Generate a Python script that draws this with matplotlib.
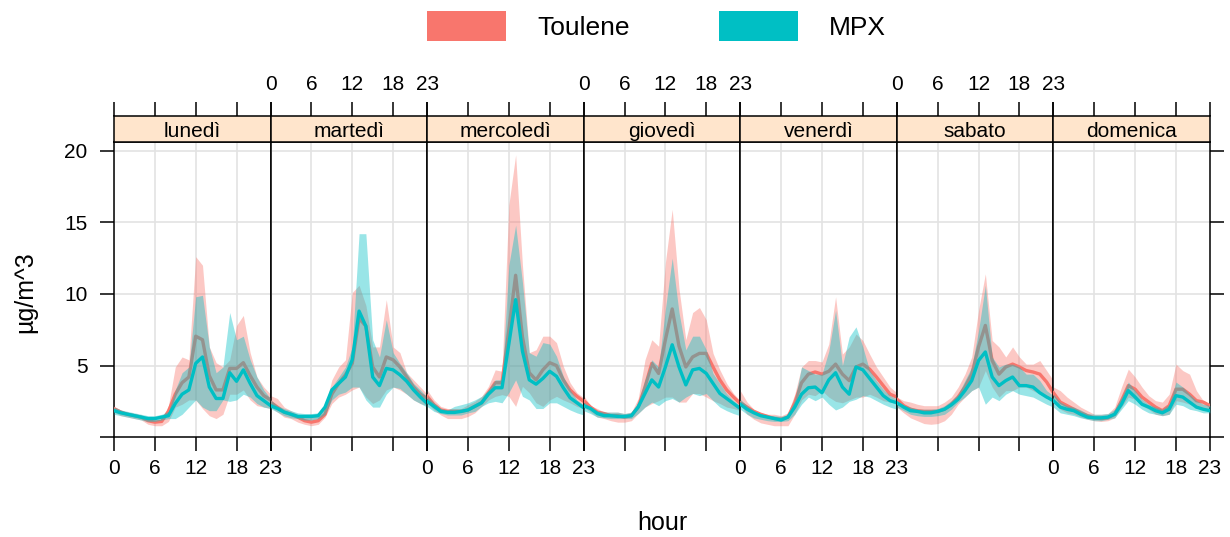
import numpy as np
import matplotlib
matplotlib.use("Agg")
import matplotlib.pyplot as plt
from matplotlib.patches import Rectangle

plt.rcParams['font.family'] = ['Liberation Sans', 'DejaVu Sans']

days = ["lunedì", "martedì", "mercoledì", "giovedì", "venerdì", "sabato", "domenica"]
hours = list(range(24))
hour_ticks = [0, 6, 12, 18, 23]
y_ticks = [0, 5, 10, 15, 20]
y_ticklabels = ["", "5", "10", "15", "20"]
series = ["Toulene", "MPX"]
colors = ["#F8766D", "#00BFC4"]

tol_mean = [
    [2.0, 1.75, 1.6, 1.5, 1.4, 1.15, 1.05, 1.1, 1.8, 3.0, 3.8, 4.2, 7.05, 6.8, 4.3, 3.3, 3.3, 4.8, 4.8, 5.2, 4.3, 3.5, 2.9, 2.6],
    [2.45, 2.1, 1.75, 1.6, 1.4, 1.15, 1.05, 1.15, 1.6, 3.0, 3.75, 4.35, 5.15, 8.3, 7.75, 4.9, 4.2, 5.6, 5.4, 4.9, 4.2, 3.5, 3.0, 2.7],
    [2.85, 2.27, 1.9, 1.8, 1.8, 1.8, 1.9, 2.15, 2.4, 3.1, 3.8, 3.8, 7.5, 11.3, 7.0, 4.5, 4.0, 4.7, 5.2, 5.0, 4.0, 3.3, 2.85, 2.5],
    [2.55, 2.1, 1.75, 1.65, 1.5, 1.5, 1.4, 1.5, 2.1, 3.5, 5.15, 4.45, 6.8, 8.95, 6.35, 4.9, 5.6, 5.85, 5.85, 4.9, 4.0, 3.3, 2.8, 2.35],
    [2.4, 2.1, 1.8, 1.6, 1.45, 1.3, 1.25, 1.4, 2.4, 3.8, 4.4, 4.55, 4.4, 4.6, 5.1, 4.4, 3.95, 4.9, 5.1, 4.75, 4.2, 3.6, 3.0, 2.8],
    [2.65, 2.2, 1.95, 1.85, 1.8, 1.8, 1.8, 1.95, 2.3, 2.8, 3.5, 4.4, 6.3, 7.8, 5.35, 4.4, 4.9, 5.1, 4.9, 4.65, 4.55, 4.4, 3.85, 3.1],
    [3.1, 2.45, 2.2, 1.95, 1.7, 1.5, 1.35, 1.3, 1.35, 1.6, 2.55, 3.6, 3.35, 2.8, 2.45, 2.1, 1.85, 2.2, 3.35, 3.35, 3.0, 2.55, 2.45, 2.2],
]
tol_low = [
    [1.75, 1.5, 1.4, 1.3, 1.2, 0.9, 0.8, 0.8, 1.1, 2.1, 2.3, 2.6, 2.6, 2.0, 1.5, 1.3, 1.6, 3.0, 3.0, 3.3, 2.6, 2.2, 2.1, 2.0],
    [2.1, 1.75, 1.4, 1.3, 1.05, 0.9, 0.8, 0.9, 1.4, 2.35, 2.8, 3.0, 3.3, 3.5, 2.8, 2.35, 2.6, 3.3, 3.5, 3.3, 3.0, 2.6, 2.35, 2.2],
    [2.4, 1.9, 1.55, 1.3, 1.3, 1.3, 1.45, 1.7, 2.15, 2.6, 2.85, 2.97, 2.85, 2.15, 3.55, 3.1, 2.4, 2.15, 2.6, 2.85, 2.6, 2.4, 2.15, 2.0],
    [2.1, 1.75, 1.4, 1.3, 1.15, 1.05, 1.05, 1.15, 1.65, 2.1, 2.35, 2.55, 2.8, 2.8, 2.45, 2.45, 3.05, 3.05, 2.8, 2.55, 2.35, 2.1, 2.0, 1.85],
    [2.3, 1.6, 1.25, 1.0, 0.9, 0.8, 0.8, 0.8, 1.6, 2.6, 3.0, 2.9, 3.25, 2.8, 2.5, 2.4, 2.6, 2.8, 2.8, 3.0, 2.8, 2.55, 2.45, 2.4],
    [2.1, 1.7, 1.35, 1.15, 0.95, 0.9, 0.95, 1.15, 1.6, 2.3, 2.8, 3.25, 3.5, 4.65, 3.5, 2.8, 3.25, 3.25, 3.5, 3.5, 3.25, 3.0, 2.8, 2.3],
    [2.55, 1.95, 1.7, 1.6, 1.4, 1.25, 1.15, 1.1, 1.15, 1.35, 2.1, 2.8, 2.65, 2.2, 1.95, 1.6, 1.5, 1.6, 2.55, 2.45, 2.3, 2.1, 1.95, 1.85],
]
tol_high = [
    [2.1, 1.9, 1.7, 1.6, 1.5, 1.3, 1.2, 1.3, 2.2, 4.9, 5.6, 5.4, 12.6, 12.0, 6.3, 5.2, 4.9, 5.4, 7.8, 8.5, 5.9, 4.2, 3.5, 3.0],
    [2.9, 2.7, 2.1, 1.85, 1.6, 1.5, 1.4, 1.5, 2.1, 4.0, 4.9, 5.4, 10.1, 10.6, 9.2, 6.3, 6.3, 9.6, 6.3, 5.9, 4.5, 4.0, 3.5, 3.0],
    [3.3, 2.6, 2.15, 2.0, 2.0, 2.0, 2.27, 2.5, 2.85, 3.55, 4.7, 4.6, 16.2, 19.7, 12.0, 5.9, 6.1, 7.05, 7.05, 6.6, 4.95, 3.8, 3.1, 2.75],
    [2.9, 2.2, 2.0, 1.75, 1.75, 1.75, 1.65, 1.75, 2.7, 5.4, 6.8, 6.35, 12.2, 15.9, 10.35, 6.8, 8.7, 9.05, 8.2, 5.85, 4.7, 3.75, 3.05, 2.55],
    [3.25, 2.45, 1.95, 1.7, 1.6, 1.6, 1.5, 1.7, 3.0, 4.9, 5.35, 5.35, 5.25, 6.5, 9.8, 5.8, 6.3, 7.2, 6.75, 5.8, 4.9, 4.2, 3.5, 3.1],
    [2.8, 2.55, 2.45, 2.3, 2.2, 2.2, 2.2, 2.45, 2.8, 3.5, 4.4, 5.6, 8.85, 11.4, 6.75, 6.3, 5.6, 6.3, 5.6, 5.1, 5.1, 5.35, 4.65, 3.95],
    [3.5, 3.25, 2.8, 2.45, 2.1, 1.85, 1.6, 1.6, 1.65, 2.1, 3.5, 4.75, 4.2, 3.5, 2.9, 2.55, 2.45, 3.0, 5.1, 4.65, 4.4, 3.25, 2.55, 2.3],
]
mpx_mean = [
    [1.85, 1.7, 1.6, 1.5, 1.4, 1.3, 1.3, 1.4, 1.5, 2.35, 3.0, 3.3, 5.15, 5.6, 3.5, 2.7, 2.7, 4.5, 3.9, 4.7, 3.75, 2.9, 2.55, 2.2],
    [2.2, 2.0, 1.75, 1.6, 1.45, 1.45, 1.45, 1.5, 2.1, 3.3, 3.75, 4.2, 5.4, 8.8, 7.75, 4.2, 3.6, 4.8, 4.7, 4.35, 3.9, 3.3, 2.8, 2.35],
    [2.5, 2.15, 1.8, 1.73, 1.73, 1.8, 1.9, 2.15, 2.4, 3.0, 3.45, 3.45, 6.5, 9.6, 6.0, 4.0, 3.7, 4.1, 4.6, 4.25, 3.45, 2.75, 2.4, 2.05],
    [2.2, 2.0, 1.65, 1.5, 1.5, 1.45, 1.45, 1.5, 2.1, 3.05, 4.0, 3.5, 4.9, 6.45, 4.9, 3.65, 4.7, 4.8, 4.45, 3.75, 3.05, 2.7, 2.35, 2.0],
    [2.3, 1.95, 1.7, 1.5, 1.4, 1.3, 1.2, 1.4, 2.1, 3.0, 3.45, 3.5, 3.1, 4.0, 4.5, 3.5, 3.0, 4.9, 4.7, 4.1, 3.5, 2.9, 2.55, 2.4],
    [2.4, 2.1, 1.85, 1.8, 1.7, 1.7, 1.8, 1.95, 2.25, 2.65, 3.25, 3.95, 5.35, 5.95, 4.2, 3.6, 3.95, 4.2, 3.6, 3.6, 3.5, 3.1, 2.8, 2.55],
    [2.55, 2.1, 1.95, 1.85, 1.6, 1.4, 1.35, 1.35, 1.4, 1.6, 2.3, 3.25, 2.8, 2.3, 2.1, 1.85, 1.7, 1.95, 2.9, 2.8, 2.45, 2.1, 1.95, 1.85],
]
mpx_low = [
    [1.6, 1.5, 1.4, 1.3, 1.2, 1.1, 1.1, 1.2, 1.3, 1.3, 1.6, 2.1, 2.6, 2.1, 1.85, 1.85, 2.6, 2.5, 2.6, 3.0, 2.8, 2.35, 2.1, 2.0],
    [2.0, 1.75, 1.5, 1.35, 1.3, 1.2, 1.2, 1.3, 1.6, 2.6, 3.0, 3.15, 3.5, 3.5, 2.6, 2.1, 2.1, 3.0, 3.5, 3.4, 3.0, 2.6, 2.35, 2.1],
    [2.15, 1.8, 1.65, 1.55, 1.55, 1.55, 1.7, 1.8, 2.15, 2.4, 2.5, 2.4, 3.1, 4.0, 2.85, 2.6, 2.0, 2.0, 2.4, 2.4, 2.15, 1.9, 1.7, 1.55],
    [1.85, 1.65, 1.4, 1.35, 1.3, 1.3, 1.3, 1.3, 1.65, 2.1, 2.45, 2.2, 2.55, 2.7, 2.45, 2.8, 3.05, 2.9, 3.05, 2.55, 2.1, 1.85, 1.65, 1.5],
    [1.95, 1.6, 1.35, 1.25, 1.15, 1.1, 1.1, 1.15, 1.6, 2.3, 2.8, 2.55, 2.8, 2.3, 1.9, 2.1, 2.5, 2.65, 2.9, 2.8, 2.55, 2.3, 2.1, 1.95],
    [2.1, 1.85, 1.6, 1.5, 1.45, 1.45, 1.5, 1.6, 1.95, 2.45, 2.8, 3.25, 3.5, 2.3, 2.8, 2.55, 3.0, 3.25, 3.0, 2.9, 2.8, 2.55, 2.3, 2.1],
    [2.1, 1.7, 1.6, 1.5, 1.35, 1.25, 1.15, 1.15, 1.25, 1.35, 1.95, 2.55, 2.3, 1.95, 1.7, 1.6, 1.5, 1.6, 2.3, 2.2, 1.95, 1.85, 1.7, 1.7],
]
mpx_high = [
    [2.1, 1.9, 1.8, 1.7, 1.6, 1.5, 1.5, 1.6, 1.8, 3.3, 4.5, 4.9, 9.8, 9.9, 6.3, 4.5, 4.9, 8.7, 6.8, 7.05, 5.4, 4.2, 3.3, 2.7],
    [2.6, 2.2, 2.0, 1.85, 1.7, 1.65, 1.65, 1.7, 2.2, 3.5, 4.2, 4.9, 6.3, 14.2, 14.2, 6.8, 5.6, 8.2, 5.9, 5.15, 4.5, 3.75, 3.3, 2.8],
    [2.85, 2.4, 2.0, 1.9, 2.15, 2.27, 2.4, 2.6, 2.85, 3.3, 4.0, 4.0, 12.0, 14.8, 10.8, 5.9, 5.65, 6.6, 6.5, 5.65, 4.25, 3.3, 2.6, 2.27],
    [2.45, 2.1, 1.85, 1.75, 1.75, 1.75, 1.65, 1.75, 2.45, 4.0, 5.4, 4.9, 8.95, 12.5, 8.7, 6.1, 7.05, 7.05, 6.1, 4.45, 3.75, 3.05, 2.55, 2.2],
    [2.65, 2.2, 1.85, 1.6, 1.5, 1.5, 1.45, 1.6, 2.6, 4.9, 4.65, 4.4, 4.4, 6.0, 8.85, 5.0, 7.0, 7.7, 6.3, 4.65, 3.95, 3.35, 2.9, 2.65],
    [2.55, 2.25, 2.1, 1.95, 1.95, 1.95, 2.0, 2.2, 2.55, 3.0, 3.95, 4.9, 7.45, 10.6, 5.6, 4.9, 5.1, 5.1, 4.9, 4.4, 4.4, 3.95, 3.25, 2.9],
    [3.0, 2.45, 2.2, 2.1, 1.9, 1.65, 1.6, 1.6, 1.65, 1.95, 2.8, 3.85, 3.25, 2.65, 2.3, 2.1, 1.95, 2.3, 3.85, 3.5, 3.0, 2.55, 2.3, 2.2],
]

means = [tol_mean, mpx_mean]
lows = [tol_low, mpx_low]
highs = [tol_high, mpx_high]

W, H = 1230, 537
fig = plt.figure(figsize=(W / 100, H / 100), dpi=100)


def fx(px):
    return px / W


def fy(py):
    return 1 - py / H


left, right = 114, 1210
pw = (right - left) / 7
strip_top, strip_bot, plot_bot = 116, 142, 437.2
FS = 15
grid_col = "#E3E3E3"

for i, day in enumerate(days):
    x0 = left + i * pw
    ax = fig.add_axes([fx(x0), fy(plot_bot), pw / W, (plot_bot - strip_bot) / H])
    sax = fig.add_axes([fx(x0), fy(strip_bot), pw / W, (strip_bot - strip_top) / H])

    ax.set_xlim(0, 23)
    ax.set_ylim(0, 20.6)
    for g in [0, 6, 12, 18]:
        ax.axvline(g, color=grid_col, lw=1.2, zorder=0)
    for g in [5, 10, 15, 20]:
        ax.axhline(g, color=grid_col, lw=1.2, zorder=0)

    for k in range(2):
        ax.fill_between(hours, lows[k][i], highs[k][i], color=colors[k], alpha=0.4, lw=0, zorder=2 + 2 * k)
        ax.plot(hours, means[k][i], color=colors[k], lw=2.4, zorder=3 + 2 * k)

    for sp in ax.spines.values():
        sp.set_color("black")
        sp.set_linewidth(1.1)

    ax.set_xticks(hour_ticks)
    ax.set_xticklabels([str(h) for h in hour_ticks])
    ax.tick_params(axis="x", direction="out", length=10, width=1.1, top=False,
                   bottom=True, labelbottom=(i % 2 == 0), labelsize=FS, pad=6)
    ax.set_yticks(y_ticks)
    if i == 0:
        ax.set_yticklabels(y_ticklabels)
        ax.tick_params(axis="y", direction="out", length=10, width=1.1, left=True,
                       right=False, labelleft=True, labelsize=FS, pad=9)
    elif i == 6:
        ax.tick_params(axis="y", direction="out", length=10, width=1.1, left=False,
                       right=True, labelleft=False, labelright=False)
    else:
        ax.tick_params(axis="y", left=False, right=False, labelleft=False)

    sax.set_facecolor("#FFE5CC")
    sax.set_xlim(0, 23)
    sax.set_ylim(0, 1)
    sax.set_yticks([])
    sax.set_xticks(hour_ticks)
    sax.set_xticklabels([str(h) for h in hour_ticks])
    sax.tick_params(axis="x", direction="out", length=10, width=1.1, top=True,
                    bottom=False, labeltop=(i % 2 == 1), labelbottom=False,
                    labelsize=FS, pad=6)
    for sp in sax.spines.values():
        sp.set_color("black")
        sp.set_linewidth(1.1)
    sax.text(0.5, 0.42, day, ha="center", va="center", transform=sax.transAxes, fontsize=FS)

# y label and x label
fig.text(fx(25), fy(292), "µg/m^3", rotation=90, ha="center", va="center", fontsize=18)
fig.text(fx(662), fy(523), "hour", ha="center", va="center", fontsize=18)

# legend
leg_x = [427, 719]
for k, name in enumerate(series):
    fig.patches.append(Rectangle((fx(leg_x[k]), fy(41)), 79 / W, 30 / H,
                                 transform=fig.transFigure, facecolor=colors[k],
                                 edgecolor="none"))
    fig.text(fx(leg_x[k] + 110), fy(28), name, ha="left", va="center", fontsize=19)

fig.savefig("out.png", dpi=100)
